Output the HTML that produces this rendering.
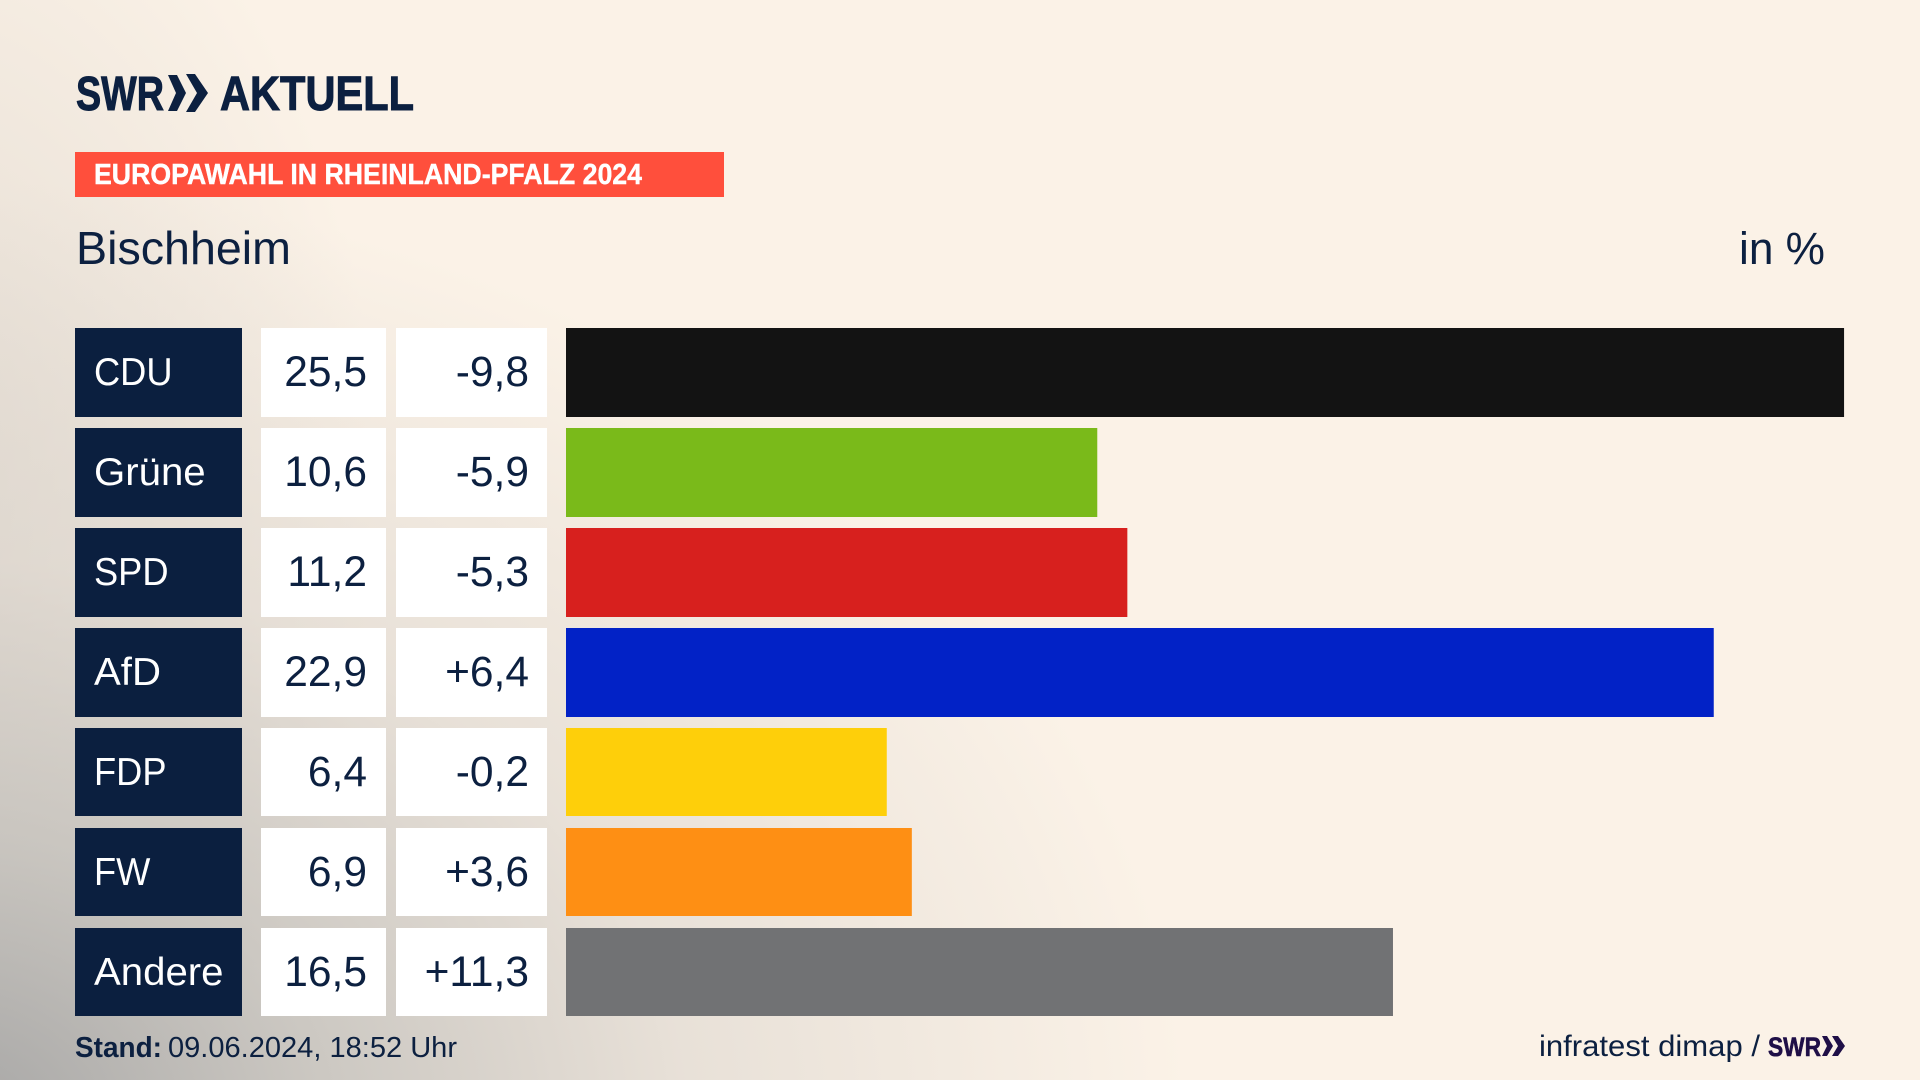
<!DOCTYPE html>
<html lang="de">
<head>
<meta charset="utf-8">
<title>Europawahl in Rheinland-Pfalz 2024 – Bischheim</title>
<style>
html,body{margin:0;padding:0;width:1920px;height:1080px;overflow:hidden;background:#fbf2e7}
#bg{position:absolute;left:0;top:0;width:1920px;height:1080px;
background:
radial-gradient(ellipse 1250px 950px at -60px 1130px,rgba(160,160,160,.95) 0%,rgba(186,184,180,.74) 30%,rgba(215,209,202,.52) 60%,rgba(251,242,231,0) 100%),
radial-gradient(ellipse 460px 720px at -80px 500px,rgba(205,198,190,.5) 0%,rgba(251,242,231,0) 100%),
#fbf2e7}
svg{position:absolute;left:0;top:0}
text{font-family:"Liberation Sans",sans-serif;fill:#0c2040}
</style>
</head>
<body>
<div id="bg"></div>
<svg id="chart" width="1920" height="1080" viewBox="0 0 1920 1080">
  <g>
    <text x="76" y="110" font-size="48" font-weight="700" stroke="#0c2040" stroke-width="1" textLength="88" lengthAdjust="spacingAndGlyphs">SWR</text>
    <path d="M168 75L177 75L186 93L177 111L168 111L176 93Z" fill="#0c2040"/>
    <path d="M186 74L195 74L208 93L195 112L186 112L197 93Z" fill="#0c2040"/>
    <text x="220" y="110" font-size="48" font-weight="700" stroke="#0c2040" stroke-width="1" textLength="194" lengthAdjust="spacingAndGlyphs">AKTUELL</text>
  </g>
  <rect x="75" y="152" width="649" height="45" fill="#ff4f3c"/>
  <text x="94" y="184" font-size="29" font-weight="700" stroke="#fff" stroke-width=".4" style="fill:#fff" textLength="548" lengthAdjust="spacingAndGlyphs">EUROPAWAHL IN RHEINLAND-PFALZ 2024</text>
  <text x="76" y="264" font-size="46" textLength="215" lengthAdjust="spacingAndGlyphs">Bischheim</text>
  <text x="1739" y="264" font-size="45" textLength="86" lengthAdjust="spacingAndGlyphs">in %</text>
  <g id="rows"></g>
  <g>
    <text x="75" y="1057" font-size="29" font-weight="700" textLength="87" lengthAdjust="spacingAndGlyphs">Stand:</text>
    <text x="168" y="1057" font-size="29" textLength="289" lengthAdjust="spacingAndGlyphs">09.06.2024, 18:52 Uhr</text>
    <text x="1539" y="1056" font-size="30" textLength="221" lengthAdjust="spacingAndGlyphs">infratest dimap /</text>
    <text x="1768" y="1056" font-size="27" font-weight="700" stroke="#1f0f47" stroke-width=".6" style="fill:#1f0f47" textLength="53" lengthAdjust="spacingAndGlyphs">SWR</text>
    <path d="M1822 1036L1827 1036L1833 1046L1827 1056L1822 1056L1827 1046Z" fill="#1f0f47"/>
    <path d="M1832 1036L1838 1036L1845 1046L1838 1056L1832 1056L1838 1046Z" fill="#1f0f47"/>
  </g>
</svg>
<script>
var parties = ["CDU","Grüne","SPD","AfD","FDP","FW","Andere"];
var shares = [25.5,10.6,11.2,22.9,6.4,6.9,16.5];
var changes = [-9.8,-5.9,-5.3,6.4,-0.2,3.6,11.3];
var partyColors = ["#131313","#7aba1a","#d7201e","#0222c6","#fecf0a","#fe8f14","#717274"];

var NS = "http://www.w3.org/2000/svg";
var root = document.getElementById("rows");
var barX0 = 566;
var pxPerUnit = 50.12;
function xScale(v){ return barX0 + v * pxPerUnit; }
function rowY(i){ return 328 + i * 100; }
function rowH(i){ return i >= 4 ? 88 : 89; }
function fmt(v){ return v.toFixed(1).replace(".", ","); }
function fmtDelta(v){ return (v > 0 ? "+" : "") + fmt(v); }
function mk(tag, attrs, parent){
  var el = document.createElementNS(NS, tag);
  for (var k in attrs) el.setAttribute(k, attrs[k]);
  parent.appendChild(el);
  return el;
}
parties.forEach(function(p, i){
  var y = rowY(i), h = rowH(i), slug = p.toLowerCase().replace("ü", "ue");
  var g = mk("g", {}, root);
  
  

  var nameBox = mk("rect", {x:75, y:y, width:167, height:h, fill:"#0b1f3f"}, g);
  
  

  var caps = /^[A-Z]+$/.test(p);
  var nameText = mk("text", {transform:"translate(94 " + (y + 57) + ") scale(" + (caps ? 0.93 : 1.03) + " 1)", "font-size":39, style:"fill:#fff"}, g);
  nameText.textContent = p;
  
  

  var valBox = mk("rect", {x:261, y:y, width:125, height:h, fill:"#fff"}, g);
  
  

  var valText = mk("text", {x:367, y:y + 58, "font-size":42.5, "text-anchor":"end"}, g);
  valText.textContent = fmt(shares[i]);
  
  

  var chgBox = mk("rect", {x:396, y:y, width:151, height:h, fill:"#fff"}, g);
  
  

  var chgText = mk("text", {x:529, y:y + 58, "font-size":42.5, "text-anchor":"end"}, g);
  chgText.textContent = fmtDelta(changes[i]);
  
  

  var bar = mk("rect", {x:xScale(0), y:y, width:xScale(shares[i]) - xScale(0), height:h, fill:partyColors[i]}, g);
  
  
});
</script>
</body>
</html>
